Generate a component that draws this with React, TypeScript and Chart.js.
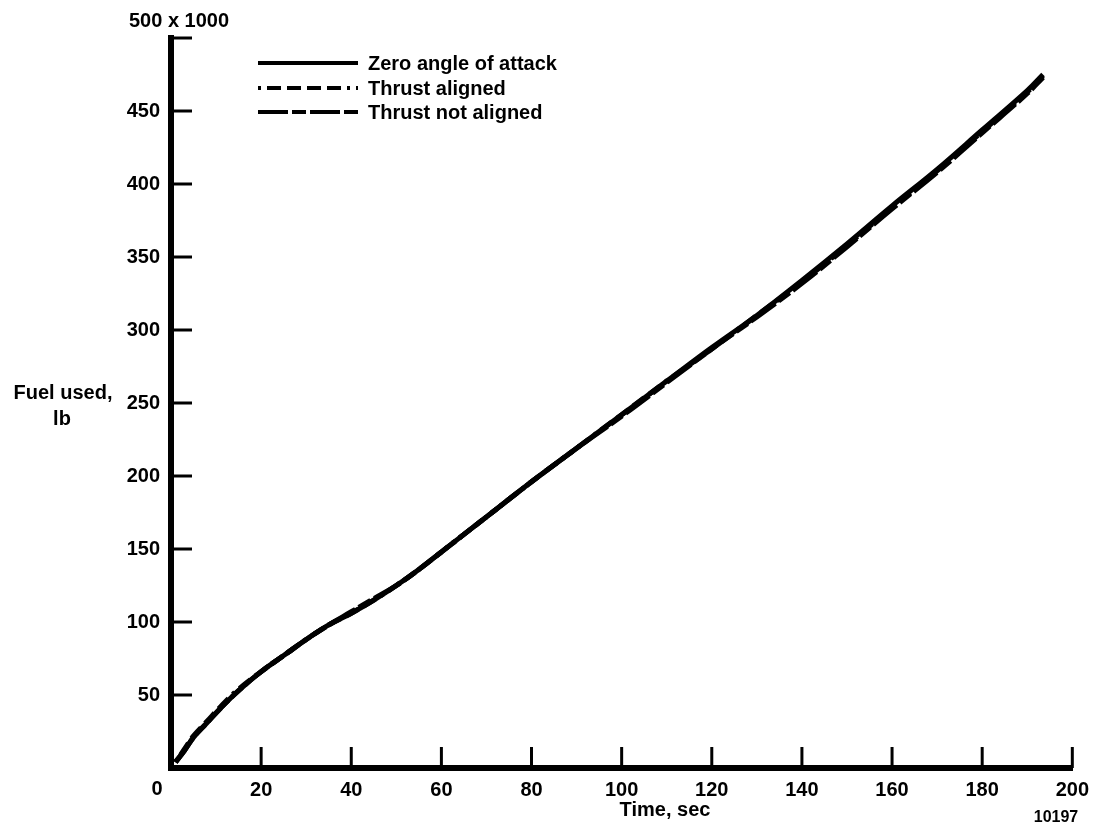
import React, { useEffect, useRef } from "react";
import { Chart, registerables } from "chart.js";

Chart.register(...registerables);

// ---- data (fuel used, thousands of lb, vs time, sec) ----
const timeSec = [1, 3, 5, 8, 11, 15, 20, 25, 30, 35, 40, 45, 50, 55, 60, 70, 80, 90, 100, 110, 120, 130, 140, 150, 160, 170, 180, 190, 193.5];
const zeroAngle = [4, 12, 21, 31, 41, 53, 66, 77, 88, 98, 106, 115, 125, 136, 148, 172, 196, 219, 242, 265, 288, 310, 334, 359, 385, 410, 437, 464, 475];
const thrustAligned = [4, 13, 22, 32, 42, 54, 66, 77, 88, 98, 106, 115, 125, 136, 148, 172, 196, 219, 242, 265, 287, 310, 333, 358, 384, 409, 436, 463, 474];
const thrustNotAligned = [4, 12, 21, 31, 41, 53, 66, 77, 88, 98, 107, 116, 125, 136, 148, 172, 196, 219, 241, 264, 287, 309, 332, 357, 383, 408, 435, 462, 473];

const seriesNames = ["Zero angle of attack", "Thrust aligned", "Thrust not aligned"];
const xTickValues = [20, 40, 60, 80, 100, 120, 140, 160, 180, 200];
const yTickValues = [50, 100, 150, 200, 250, 300, 350, 400, 450, 500];

const FONT = "'Liberation Sans', Arial, Helvetica, sans-serif";

const toPoints = (ys: number[]) => timeSec.map((t, i) => ({ x: t, y: ys[i] }));

export default function App() {
  const canvasRef = useRef<HTMLCanvasElement | null>(null);

  useEffect(() => {
    document.body.style.margin = "0";
    const canvas = canvasRef.current;
    if (!canvas) return;

    const dashes: number[][] = [[], [3, 6, 14, 6, 14, 6, 14, 6, 14, 6], [30, 4, 14, 4]];

    const overlay = {
      id: "overlay",
      afterDatasetsDraw(chart: any) {
        const ctx = chart.ctx as CanvasRenderingContext2D;
        const xs = chart.scales.x;
        const ys = chart.scales.y;
        const area = chart.chartArea;
        ctx.save();
        ctx.strokeStyle = "#000";
        ctx.fillStyle = "#000";
        ctx.lineCap = "butt";
        // inner tick marks on x axis
        ctx.lineWidth = 3;
        xTickValues.forEach((v) => {
          const px = xs.getPixelForValue(v);
          ctx.beginPath();
          ctx.moveTo(px, area.bottom);
          ctx.lineTo(px, area.bottom - 21);
          ctx.stroke();
        });
        // inner tick marks on y axis
        yTickValues.forEach((v) => {
          const py = ys.getPixelForValue(v);
          ctx.beginPath();
          ctx.moveTo(area.left, py);
          ctx.lineTo(area.left + 21, py);
          ctx.stroke();
        });
        // text
        ctx.font = `bold 20px ${FONT}`;
        ctx.textBaseline = "middle";
        ctx.textAlign = "center";
        ctx.fillText("500 x 1000", 179, 21);
        ctx.fillText("0", 157, 789);
        ctx.fillText("Fuel used,", 63, 393);
        ctx.fillText("lb", 62, 419);
        ctx.fillText("Time, sec", 665, 810);
        ctx.font = `bold 16px ${FONT}`;
        ctx.fillText("10197", 1056, 818);
        // legend
        const rows = [63, 88, 112];
        ctx.font = `bold 20px ${FONT}`;
        ctx.textAlign = "left";
        rows.forEach((ry, i) => {
          ctx.lineWidth = 4;
          ctx.setLineDash(dashes[i]);
          ctx.beginPath();
          ctx.moveTo(258, ry);
          ctx.lineTo(358, ry);
          ctx.stroke();
          ctx.setLineDash([]);
          ctx.fillText(seriesNames[i], 368, ry + 1);
        });
        ctx.restore();
      },
    };

    const chart = new Chart(canvas, {
      type: "line",
      data: {
        datasets: [
          {
            label: seriesNames[0],
            data: toPoints(zeroAngle),
            borderColor: "#000",
            borderWidth: 5,
            pointRadius: 0,
            tension: 0.4,
            fill: false,
          },
          {
            label: seriesNames[1],
            data: toPoints(thrustAligned),
            borderColor: "#000",
            borderWidth: 5,
            borderDash: dashes[1],
            pointRadius: 0,
            tension: 0.4,
            fill: false,
          },
          {
            label: seriesNames[2],
            data: toPoints(thrustNotAligned),
            borderColor: "#000",
            borderWidth: 5,
            borderDash: dashes[2],
            pointRadius: 0,
            tension: 0.4,
            fill: false,
          },
        ],
      },
      options: {
        responsive: false,
        animation: false,
        devicePixelRatio: 1,
        layout: { padding: { left: 0, top: 38, right: 23, bottom: 0 } },
        plugins: { legend: { display: false }, tooltip: { enabled: false }, title: { display: false } },
        scales: {
          x: {
            type: "linear",
            min: 0,
            max: 200,
            grid: { display: true, drawOnChartArea: false, drawTicks: false },
            border: { display: true, color: "#000", width: 6 },
            ticks: {
              stepSize: 20,
              autoSkip: false,
              maxRotation: 0,
              padding: 10,
              color: "#000",
              font: { family: FONT, size: 20, weight: "bold" },
              callback: (v: any) => (v === 0 ? "" : String(v)),
            },
            afterFit: (s: any) => {
              s.height = 63;
            },
          },
          y: {
            type: "linear",
            min: 0,
            max: 500,
            grid: { display: true, drawOnChartArea: false, drawTicks: false },
            border: { display: true, color: "#000", width: 6 },
            ticks: {
              stepSize: 50,
              padding: 11,
              color: "#000",
              font: { family: FONT, size: 20, weight: "bold" },
              callback: (v: any) => (v === 0 || v === 500 ? "" : String(v)),
            },
            afterFit: (s: any) => {
              s.width = 171;
            },
          },
        },
      },
      plugins: [overlay],
    });

    return () => chart.destroy();
  }, []);

  return (
    <div style={{ position: "absolute", left: 0, top: 0, width: 1099, height: 831, background: "#fff" }}>
      <canvas ref={canvasRef} width={1099} height={831} style={{ display: "block" }} />
    </div>
  );
}
